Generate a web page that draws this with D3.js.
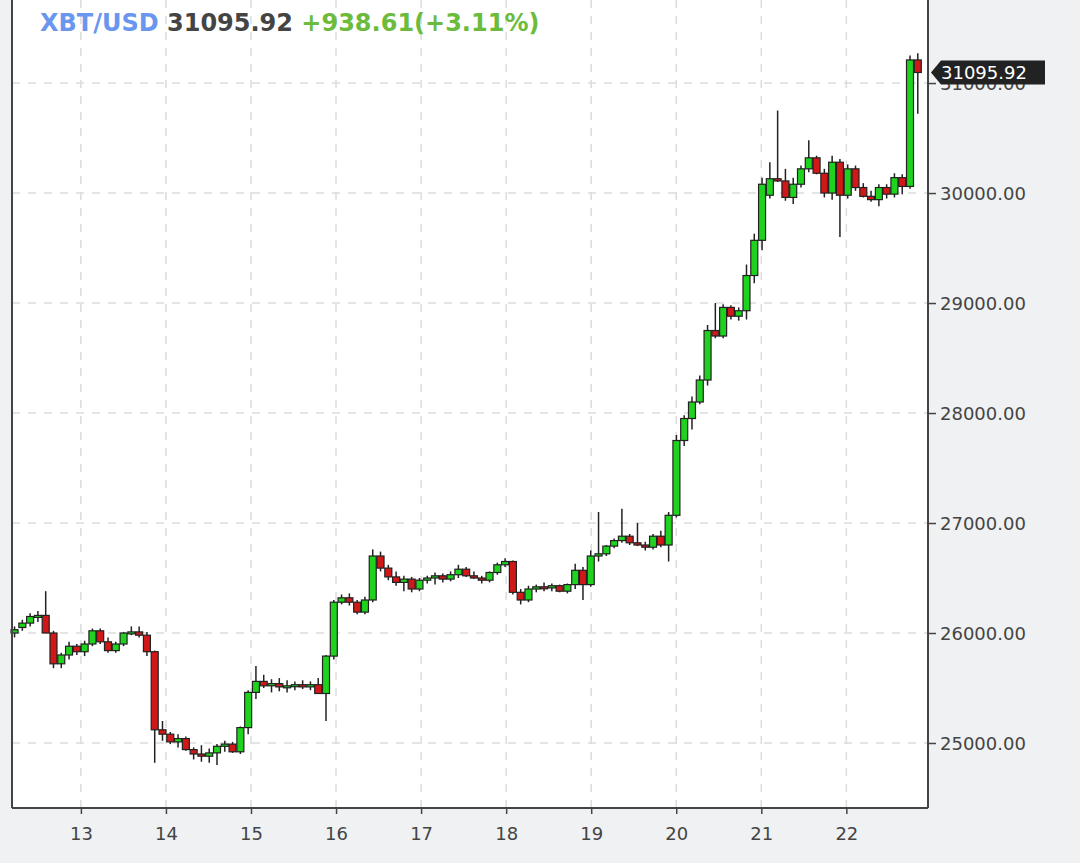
<!DOCTYPE html>
<html><head><meta charset="utf-8">
<script src="https://cdn.jsdelivr.net/npm/d3@7"></script>
<style>body{margin:0;background:#eff1f3;}svg{display:block;}</style>
</head><body><svg id="chart" width="1080" height="863"></svg>
<script>
// candles: [open, high, low, close]
var candles = [
 [26000,26060,25960,26030],[26050,26120,26020,26090],[26090,26180,26060,26150],[26150,26200,26100,26160],
 [26160,26380,26050,26000],[26000,26020,25680,25720],[25720,25820,25680,25800],[25800,25920,25760,25880],
 [25880,25900,25800,25830],[25830,25930,25790,25900],[25900,26040,25880,26020],[26020,26040,25900,25920],
 [25920,25960,25820,25840],[25840,25920,25820,25900],[25900,26010,25880,26000],[26000,26060,25980,26010],
 [26010,26060,25960,25980],[25980,26010,25790,25830],[25830,25840,24820,25120],[25120,25200,25020,25080],
 [25080,25100,24990,25010],[25010,25080,24960,25040],[25040,25060,24930,24940],[24940,24960,24850,24900],
 [24900,24980,24830,24880],[24880,24950,24820,24910],[24910,24990,24800,24970],[24970,25020,24920,24990],
 [24990,25010,24910,24920],[24920,25150,24900,25140],
 [25140,25480,25080,25460],[25460,25700,25400,25560],[25560,25620,25500,25520],[25520,25580,25460,25540],
 [25540,25590,25470,25510],[25510,25570,25460,25520],[25520,25560,25480,25530],[25530,25570,25490,25510],
 [25510,25560,25480,25530],[25530,25590,25450,25450],
 [25450,25800,25200,25790],[25790,26300,25760,26280],[26280,26350,26260,26320],[26320,26360,26250,26280],
 [26280,26300,26170,26190],[26190,26330,26170,26300],[26300,26760,26280,26700],[26700,26740,26560,26590],
 [26590,26620,26480,26510],[26510,26560,26430,26460],[26460,26520,26380,26490],[26490,26510,26370,26400],
 [26400,26500,26380,26480],[26480,26520,26450,26500],[26500,26550,26440,26520],[26520,26540,26460,26490],
 [26490,26560,26470,26530],[26530,26620,26500,26580],[26580,26600,26510,26520],[26520,26560,26490,26500],
 [26500,26520,26450,26480],[26480,26560,26460,26550],[26550,26640,26530,26620],[26620,26680,26600,26650],
 [26650,26660,26350,26370],[26370,26400,26260,26300],[26300,26430,26280,26400],[26400,26440,26370,26420],
 [26420,26460,26380,26410],[26410,26450,26380,26430],[26430,26440,26370,26380],[26380,26450,26360,26440],
 [26440,26630,26400,26570],[26570,26600,26300,26440],[26440,26750,26420,26700],[26700,27100,26650,26720],
 [26720,26800,26700,26790],[26790,26860,26770,26840],[26840,27130,26820,26880],[26880,26900,26800,26820],
 [26820,27000,26790,26800],[26800,26830,26750,26780],[26780,26900,26760,26880],[26880,26930,26780,26800],
 [26800,27100,26650,27070],[27070,27800,27050,27750],[27750,27980,27700,27950],[27950,28150,27850,28100],
 [28100,28340,28080,28300],[28300,28800,28250,28750],[28750,29000,28680,28700],[28700,28990,28680,28960],
 [28960,28980,28850,28880],[28880,28960,28840,28930],[28930,29350,28850,29250],[29250,29630,29180,29570],
 [29570,30140,29480,30080],[29980,30280,29950,30130],[30130,30750,30100,30110],[30110,30220,29930,29960],
 [29960,30140,29900,30080],[30080,30250,30050,30220],[30220,30480,30190,30320],[30320,30340,30170,30180],
 [30180,30220,29960,30000],[30000,30340,29940,30280],
 [30280,30310,29600,29980],[29980,30260,29950,30220],[30220,30250,30020,30050],
 [30050,30090,29960,29970],[29970,30020,29920,29940],[29940,30080,29880,30050],
 [30050,30080,29950,29990],[29990,30180,29960,30140],[30140,30170,29990,30060],
 [30060,31250,30040,31210],[31210,31270,30720,31095.92]
];
var firstDay = 12.22, lastDay = 22.84;   // day-of-month of first and last candle
var dayTicks = [13,14,15,16,17,18,19,20,21,22];
var priceTicks = [25000,26000,27000,28000,29000,30000,31000];
var symbol = "XBT/USD", last = "31095.92", change = "+938.61(+3.11%)";

var svg = d3.select("#chart");
var L = 12, R = 928, T = 0, B = 808;
var x = d3.scaleLinear().domain([12.19, 22.96]).range([L, R]);
var y = d3.scaleLinear().domain([24409, 31755]).range([B, T]);
var step = (lastDay - firstDay) / (candles.length - 1);

svg.append("rect").attr("x", L).attr("y", T).attr("width", R - L).attr("height", B - T).attr("fill", "#fff");

var grid = svg.append("g").attr("stroke", "#dcdcdc").attr("stroke-dasharray", "8,8").attr("stroke-width", 1.5);
dayTicks.forEach(function (d) {
  grid.append("line").attr("x1", x(d)).attr("x2", x(d)).attr("y1", T).attr("y2", B);
});
priceTicks.forEach(function (p) {
  grid.append("line").attr("x1", L).attr("x2", R).attr("y1", y(p)).attr("y2", y(p));
});

var g = svg.append("g");
candles.forEach(function (c, i) {
  var cx = x(firstDay + i * step), up = c[3] >= c[0];
  g.append("line").attr("x1", cx).attr("x2", cx).attr("y1", y(c[1])).attr("y2", y(c[2]))
    .attr("stroke", "#222").attr("stroke-width", 1.5);
  var top = y(Math.max(c[0], c[3])), bot = y(Math.min(c[0], c[3]));
  g.append("rect").attr("x", cx - 3.5).attr("y", top).attr("width", 7).attr("height", Math.max(bot - top, 2))
    .attr("fill", up ? "#1ed21e" : "#d01818").attr("stroke", "#222").attr("stroke-width", 1.2);
});

// axes frame
svg.append("line").attr("x1", L).attr("x2", L).attr("y1", 0).attr("y2", B).attr("stroke", "#444").attr("stroke-width", 2);
svg.append("line").attr("x1", L).attr("x2", R).attr("y1", B).attr("y2", B).attr("stroke", "#444").attr("stroke-width", 2);
svg.append("line").attr("x1", R).attr("x2", R).attr("y1", 0).attr("y2", B).attr("stroke", "#444").attr("stroke-width", 2);

var xa = svg.append("g").attr("transform", "translate(0," + B + ")")
  .call(d3.axisBottom(x).tickValues(dayTicks).tickSize(6).tickFormat(d3.format("d")));
var ya = svg.append("g").attr("transform", "translate(" + R + ",0)")
  .call(d3.axisRight(y).tickValues(priceTicks).tickSize(8).tickFormat(d3.format(".2f")));
[xa, ya].forEach(function (a) {
  a.select(".domain").remove();
  a.selectAll("line").attr("stroke", "#444").attr("stroke-width", 1.5);
  a.selectAll("text").attr("fill", "#444").attr("font-family", "DejaVu Sans").attr("font-size", 18);
});
xa.selectAll("text").attr("dy", "1.3em");
ya.selectAll("text").attr("x", 12).attr("dy", "0.35em");

// last price tag
var ly = y(31095.92);
svg.append("path").attr("d", "M" + (R + 3) + "," + ly + " l10,-12 h104 v24 h-104 z").attr("fill", "#222");
svg.append("text").attr("x", R + 13).attr("y", ly).attr("dy", "0.36em").attr("fill", "#fff")
  .attr("font-family", "DejaVu Sans").attr("font-size", 18).text(last);

// header
var hdr = svg.append("text").attr("x", 40).attr("y", 31).attr("font-family", "DejaVu Sans")
  .attr("font-size", 24).attr("font-weight", "bold");
hdr.append("tspan").attr("fill", "#6a96ef").text(symbol + " ");
hdr.append("tspan").attr("fill", "#444").text(last + " ");
hdr.append("tspan").attr("fill", "#6cbb3c").text(change);
</script></body></html>
